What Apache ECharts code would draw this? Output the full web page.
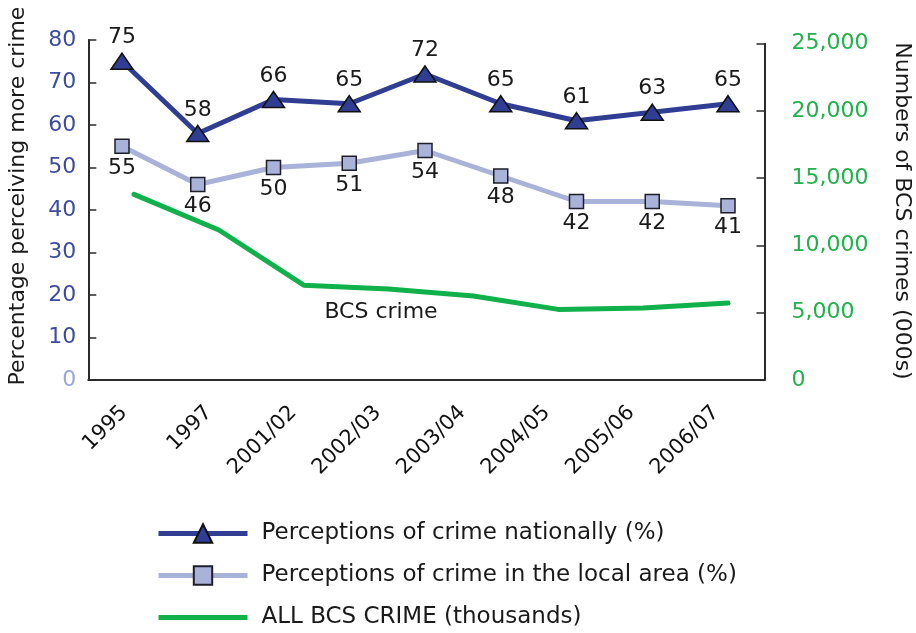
<!DOCTYPE html>
<html>
<head>
<meta charset="utf-8">
<script src="https://cdn.jsdelivr.net/npm/echarts@6/dist/echarts.min.js"></script>
<style>
  html, body { margin: 0; padding: 0; background: #ffffff; }
  #chart { width: 916px; height: 633px; }
</style>
</head>
<body>
<div id="chart"></div>
<script>
// Survey years shown on the category axis
const categories = ['1995', '1997', '2001/02', '2002/03', '2003/04', '2004/05', '2005/06', '2006/07'];

// Percentage perceiving more crime (left axis)
const national = [75, 58, 66, 65, 72, 65, 61, 63, 65];
const local = [55, 46, 50, 51, 54, 48, 42, 42, 41];

// All BCS crime, thousands (right axis)
const bcsCrime = [13800, 11150, 7050, 6770, 6250, 5250, 5350, 5720];

// Axis ranges
const pctAxis = { min: 0, max: 80, interval: 10 };
const crimeAxis = { min: 0, max: 25000, interval: 5000 };

const FONT = 'DejaVu Sans';
const NAVY = '#2f3e92';
const LILAC = '#a9b2d8';
const GREEN = '#10b14b';
const AXIS = '#2a2a2a';

const chart = echarts.init(document.getElementById('chart'), null, { renderer: 'canvas' });

const pointIdx9 = national.map((_, i) => String(i));
const pointIdx8 = bcsCrime.map((_, i) => String(i));

const fmtThousands = v => String(v).replace(/\B(?=(\d{3})+(?!\d))/g, ',');

chart.setOption({
  animation: false,
  backgroundColor: '#ffffff',
  textStyle: { fontFamily: FONT },
  grid: [
    { left: 88.3, right: 151.5, top: 40, bottom: 253 },
    { left: 88.3, right: 151.5, top: 43.7, bottom: 253 },
    { left: 122, right: 188, top: 40, bottom: 253 },
    { left: 134, right: 188, top: 43.7, bottom: 253 }
  ],
  xAxis: [
    {
      type: 'category', gridIndex: 0, data: categories, boundaryGap: true,
      axisLine: { lineStyle: { color: AXIS, width: 2 } },
      axisTick: { inside: true, length: 7, lineStyle: { color: AXIS, width: 1.5 } },
      axisLabel: {
        rotate: 45, margin: 23, padding: [0, 9, 0, 0],
        fontSize: 21, color: '#111', fontFamily: FONT
      }
    },
    { type: 'category', gridIndex: 1, data: categories, show: false },
    { type: 'category', gridIndex: 2, data: pointIdx9, boundaryGap: false, show: false },
    { type: 'category', gridIndex: 3, data: pointIdx8, boundaryGap: false, show: false }
  ],
  yAxis: [
    {
      type: 'value', gridIndex: 0, position: 'left',
      min: pctAxis.min, max: pctAxis.max, interval: pctAxis.interval,
      splitLine: { show: false },
      axisLine: { show: true, lineStyle: { color: AXIS, width: 2 } },
      axisTick: { show: true, inside: true, length: 8, lineStyle: { color: AXIS, width: 1.5 } },
      axisLabel: {
        margin: 12, fontSize: 22, fontFamily: FONT,
        color: v => (Number(v) === 0 ? '#9ba6d9' : '#3c4da0')
      }
    },
    {
      type: 'value', gridIndex: 1, position: 'right',
      min: crimeAxis.min, max: crimeAxis.max, interval: crimeAxis.interval,
      splitLine: { show: false },
      axisLine: { show: true, lineStyle: { color: AXIS, width: 2 } },
      axisTick: { show: true, inside: true, length: 8, lineStyle: { color: AXIS, width: 1.5 } },
      axisLabel: {
        margin: 27, fontSize: 22, fontFamily: FONT, color: '#22b14c',
        formatter: fmtThousands
      }
    },
    { type: 'value', gridIndex: 2, min: pctAxis.min, max: pctAxis.max, show: false },
    { type: 'value', gridIndex: 3, min: crimeAxis.min, max: crimeAxis.max, show: false }
  ],
  legend: {
    orient: 'vertical',
    left: 156, top: 522, padding: 0,
    itemWidth: 89, itemHeight: 23, itemGap: 19,
    textStyle: { fontFamily: FONT, fontSize: 23, color: '#1a1a1a', padding: [0, 0, 0, 9] },
    data: [
      { name: 'Perceptions of crime nationally (%)', lineStyle: { width: 5 } },
      { name: 'Perceptions of crime in the local area (%)', lineStyle: { width: 5 } },
      { name: 'ALL BCS CRIME (thousands)', icon: 'path://M0,0H89V5H0Z' }
    ]
  },
  series: [
    {
      name: 'ALL BCS CRIME (thousands)', type: 'line',
      xAxisIndex: 3, yAxisIndex: 3, data: bcsCrime,
      symbol: 'none', smooth: false,
      lineStyle: { color: GREEN, width: 5, cap: 'round', join: 'round' },
      itemStyle: { color: GREEN },
      z: 2
    },
    {
      name: 'Perceptions of crime in the local area (%)', type: 'line',
      xAxisIndex: 2, yAxisIndex: 2, data: local,
      symbol: 'rect', symbolSize: 14,
      lineStyle: { color: LILAC, width: 5, join: 'round' },
      itemStyle: { color: LILAC, borderColor: '#1e1e2a', borderWidth: 1.5 },
      label: {
        show: true, position: 'bottom', distance: 3,
        fontSize: 22, fontFamily: FONT, color: '#1a1a1a'
      },
      z: 3
    },
    {
      name: 'Perceptions of crime nationally (%)', type: 'line',
      xAxisIndex: 2, yAxisIndex: 2, data: national,
      symbol: 'triangle', symbolSize: [22, 16],
      lineStyle: { color: NAVY, width: 5, join: 'round' },
      itemStyle: { color: NAVY, borderColor: '#111', borderWidth: 1.5 },
      label: {
        show: true, position: 'top', distance: 4,
        fontSize: 22, fontFamily: FONT, color: '#1a1a1a'
      },
      z: 4
    }
  ],
  graphic: [
    {
      type: 'text', x: 18, y: 196, rotation: Math.PI / 2,
      style: {
        text: 'Percentage perceiving more crime', fontFamily: FONT, fontSize: 22,
        fill: '#1a1a1a', align: 'center', verticalAlign: 'middle'
      }
    },
    {
      type: 'text', x: 902, y: 211, rotation: -Math.PI / 2,
      style: {
        text: 'Numbers of BCS crimes (000s)', fontFamily: FONT, fontSize: 22,
        fill: '#1a1a1a', align: 'center', verticalAlign: 'middle'
      }
    },
    {
      type: 'text', x: 381, y: 312,
      style: {
        text: 'BCS crime', fontFamily: FONT, fontSize: 22,
        fill: '#1a1a1a', align: 'center', verticalAlign: 'middle'
      }
    }
  ]
});
</script>
</body>
</html>
